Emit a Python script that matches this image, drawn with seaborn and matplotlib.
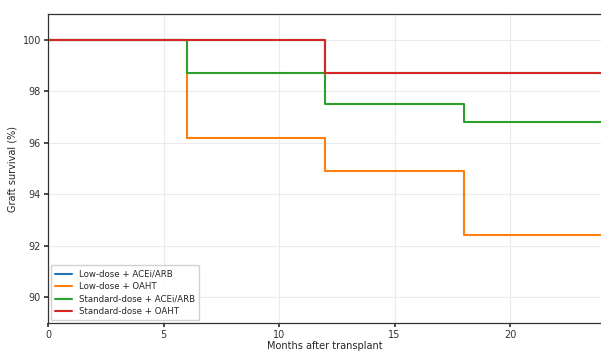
import matplotlib
matplotlib.use("Agg")
import matplotlib.pyplot as plt
import seaborn as sns
import pandas as pd

# Kaplan-Meier style graft survival by group (step changes at follow-up visits)
months = [0, 6, 12, 18, 24]
groups = ["Low-dose + ACEi/ARB", "Low-dose + OAHT",
          "Standard-dose + ACEi/ARB", "Standard-dose + OAHT"]
low_acei = [100.0, 100.0, 98.7, 98.7, 98.7]
low_oaht = [100.0, 96.2, 94.9, 92.4, 92.4]
std_acei = [100.0, 98.7, 97.5, 96.8, 96.8]
std_oaht = [100.0, 100.0, 98.7, 98.7, 98.7]

series = [low_acei, low_oaht, std_acei, std_oaht]
rows = []
for name, vals in zip(groups, series):
    for m, v in zip(months, vals):
        rows.append({"month": m, "survival": v, "group": name})
df = pd.DataFrame(rows)

sns.set_theme(style="whitegrid", rc={
    "axes.edgecolor": "0.2",
    "axes.linewidth": 0.9,
    "grid.color": "#ebebeb",
    "grid.linewidth": 0.8,
    "xtick.bottom": True,
    "ytick.left": True,
    "xtick.major.size": 3,
    "ytick.major.size": 3,
    "xtick.color": "0.2",
    "ytick.color": "0.2",
})
plt.rcParams["font.family"] = ["DejaVu Sans"]

fig = plt.figure(figsize=(6.01, 3.51), dpi=100)
ax = fig.add_axes([0.0799, 0.0798, 0.9226, 0.880])

sns.lineplot(data=df, x="month", y="survival", hue="group", hue_order=groups,
             palette="tab10", drawstyle="steps-post", linewidth=1.5,
             estimator=None, ax=ax)

ax.set_xlim(0, 24)
ax.set_ylim(89, 101)
ax.set_xticks([0, 5, 10, 15, 20])
ax.set_yticks([90, 92, 94, 96, 98, 100])
ax.tick_params(labelsize=7, pad=2)
ax.set_xlabel("Months after transplant", fontsize=7, labelpad=1)
ax.set_ylabel("Graft survival (%)", fontsize=7, labelpad=4)

handles, labels = ax.get_legend_handles_labels()
ax.legend(handles, labels, loc="lower left", fontsize=6.2, frameon=True,
          fancybox=True, edgecolor="#cccccc", framealpha=0.9,
          handlelength=2.0, borderpad=0.5, labelspacing=0.4,
          borderaxespad=0.3)

fig.savefig("out.png", dpi=100)
